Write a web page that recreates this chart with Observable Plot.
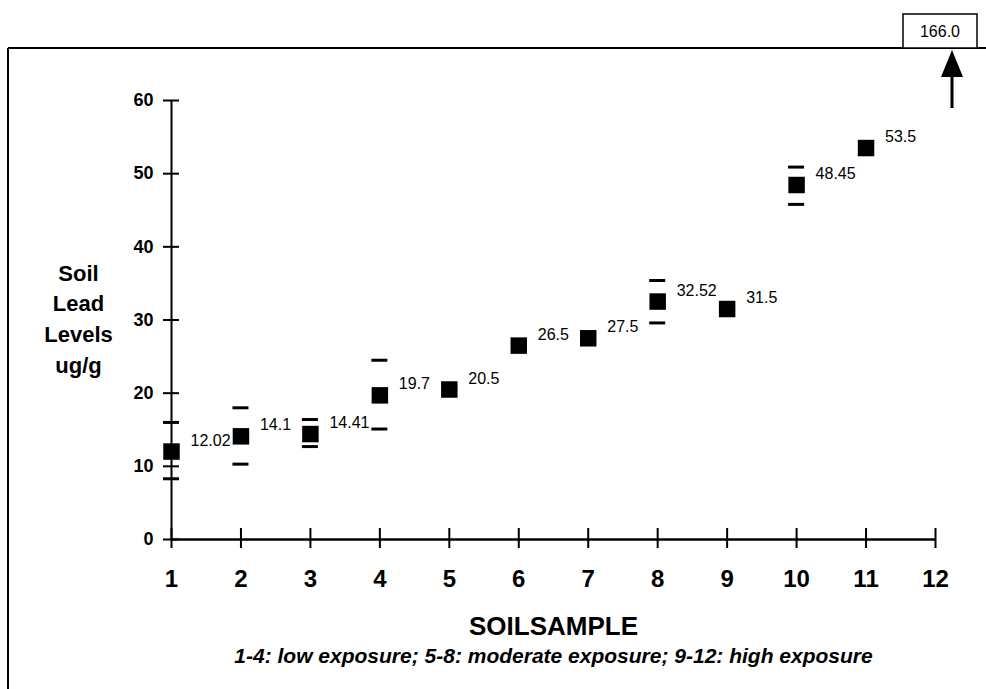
<!DOCTYPE html>
<html><head><meta charset="utf-8">
<script src="https://cdn.jsdelivr.net/npm/d3@7"></script>
<script src="https://cdn.jsdelivr.net/npm/@observablehq/plot@0.6"></script>
<style>html,body{margin:0;padding:0;background:#fff;} svg{display:block}</style>
</head><body><div id="chart"></div>
<script>
// ---- data ----
const samples = [1, 2, 3, 4, 5, 6, 7, 8, 9, 10, 11];
const leadLevels = [12.02, 14.1, 14.41, 19.7, 20.5, 26.5, 27.5, 32.52, 31.5, 48.45, 53.5];
const errSamples = [1, 2, 3, 4, 8, 10];
const errUpper = [16.0, 18.0, 16.4, 24.5, 35.4, 50.9];
const errLower = [8.3, 10.3, 12.7, 15.1, 29.6, 45.8];
const xTicks = [1, 2, 3, 4, 5, 6, 7, 8, 9, 10, 11, 12];
const yTicks = [0, 10, 20, 30, 40, 50, 60];
const offScaleSample = 12;
const offScaleLabel = "166.0";
const xTitle = "SOILSAMPLE";
const yTitle = "Soil\nLead\nLevels\nug/g";
const caption = "1-4: low exposure; 5-8: moderate exposure; 9-12: high exposure";

const points = samples.map((s, i) => ({s, v: leadLevels[i], label: String(leadLevels[i])}));
const errs = errSamples.map((s, i) => ({s, hi: errUpper[i], lo: errLower[i]}));

const font = "'Liberation Sans', Arial, Helvetica, sans-serif";

const chart = Plot.plot({
  width: 986,
  height: 689,
  marginLeft: 171,
  marginRight: 51,
  marginTop: 100,
  marginBottom: 150,
  x: {domain: [1, 12], axis: null},
  y: {domain: [0, 60], axis: null},
  style: {fontFamily: font, background: "white", color: "black", overflow: "visible"},
  marks: [
    // axis lines
    Plot.ruleX([xTicks[0]], {y1: yTicks[0], y2: yTicks[yTicks.length - 1], stroke: "black", strokeWidth: 2}),
    Plot.ruleY([yTicks[0]], {x1: xTicks[0], x2: xTicks[xTicks.length - 1], stroke: "black", strokeWidth: 2.5}),
    // tick marks crossing the axes
    Plot.ruleY(yTicks, {y: d => d, x1: xTicks[0], x2: xTicks[0], insetLeft: -8, insetRight: -8, stroke: "black", strokeWidth: 2}),
    Plot.ruleX(xTicks, {x: d => d, y1: yTicks[0], y2: yTicks[0], insetTop: -11, insetBottom: -9, stroke: "black", strokeWidth: 2}),
    // tick labels
    Plot.text(yTicks, {y: d => d, x: xTicks[0], text: d => String(d), dx: -18, textAnchor: "end", fontWeight: "bold", fontSize: 18, fill: "black"}),
    Plot.text(xTicks, {x: d => d, y: yTicks[0], text: d => String(d), dy: 40, fontWeight: "bold", fontSize: 24, fill: "black"}),
    // error caps
    Plot.ruleY(errs, {y: "hi", x1: "s", x2: "s", insetLeft: -8, insetRight: -8, stroke: "black", strokeWidth: 3}),
    Plot.ruleY(errs, {y: "lo", x1: "s", x2: "s", insetLeft: -8, insetRight: -8, stroke: "black", strokeWidth: 3}),
    // markers
    Plot.dot(points, {x: "s", y: "v", symbol: "square", r: 9.3, fill: "black", stroke: null}),
    Plot.text(points, {x: "s", y: "v", text: "label", dx: 19, dy: -11, textAnchor: "start", fontSize: 16, fill: "black"}),
    // titles
    Plot.text([xTitle], {frameAnchor: "bottom", dy: 95, fontWeight: "bold", fontSize: 26, fill: "black"}),
    Plot.text([caption], {frameAnchor: "bottom", dy: 123, fontWeight: "bold", fontStyle: "italic", fontSize: 21, fill: "black"}),
    Plot.text([yTitle], {frameAnchor: "left", textAnchor: "middle", dx: -93, dy: -3, fontWeight: "bold", fontSize: 22, lineHeight: 1.4, fill: "black"})
  ]
});

// decorative frame and off-scale annotation
const svg = d3.select(chart);
const xs = chart.scale("x");
svg.append("line").attr("x1", 8).attr("x2", 986).attr("y1", 48).attr("y2", 48).attr("stroke", "black").attr("stroke-width", 2);
svg.append("line").attr("x1", 8).attr("x2", 8).attr("y1", 48).attr("y2", 689).attr("stroke", "black").attr("stroke-width", 2);
const ax = xs.apply(offScaleSample) + 17;
const bx = xs.apply(offScaleSample) + 5;
svg.append("rect").attr("x", bx - 37).attr("y", 14).attr("width", 74).attr("height", 34)
  .attr("fill", "white").attr("stroke", "black").attr("stroke-width", 1.5);
svg.append("text").attr("x", bx).attr("y", 31).attr("text-anchor", "middle").attr("dominant-baseline", "central")
  .attr("font-family", font).attr("font-size", 16).text(offScaleLabel);
svg.append("line").attr("x1", ax).attr("x2", ax).attr("y1", 108).attr("y2", 70).attr("stroke", "black").attr("stroke-width", 3);
svg.append("path").attr("d", `M${ax},50 L${ax - 11},77 L${ax + 11},77 Z`).attr("fill", "black");

document.getElementById("chart").appendChild(chart);
</script>
</body></html>
